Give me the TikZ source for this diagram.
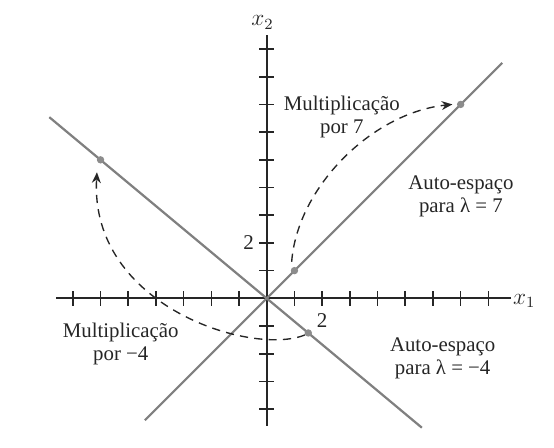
\documentclass[tikz,border=0pt]{standalone}
\usepackage{fontspec}
\setmainfont{Liberation Serif}
\newfontfamily\lblfont{Liberation Serif}
\usetikzlibrary{arrows.meta}
\begin{document}
\begin{tikzpicture}[x=0.5cm,y=0.5cm,
  axis/.style={line width=0.95pt,black!85},
  tickmark/.style={line width=0.85pt,black!85},
  eigenline/.style={line width=1.15pt,black!50},
  dotpt/.style={circle,fill=black!45,inner sep=0pt,minimum size=3.8pt},
  mapcurve/.style={line width=0.7pt,black!85,dash pattern=on 4.2pt off 3.2pt,-{Stealth[length=5.5pt,width=4.6pt]}},
  lbl/.style={font=\lblfont\fontsize{10.7}{11.8}\selectfont,text=black!85,align=center,inner sep=0pt},
  numlbl/.style={font=\lblfont\fontsize{10.8}{12}\selectfont,text=black!85,inner sep=0pt},
  axlbl/.style={font=\fontsize{12}{13}\selectfont,text=black!85,inner sep=0pt}]
\useasboundingbox (-9.63,-5.40) rectangle (10.37,10.77);
% axes
\coordinate (xl) at (-7.6,0);
\coordinate (xr) at (8.8,0);
\coordinate (yb) at (0,-4.6);
\coordinate (yt) at (0,9.5);
\draw[axis] (xl) -- (xr);
\draw[axis] (yb) -- (yt);
\foreach \i in {-7,...,-1,1,2,...,8} \draw[tickmark] (\i,-0.27) -- (\i,0.27);
\foreach \j in {-4,...,-1,1,2,...,9} \draw[tickmark] (-0.27,\j) -- (0.27,\j);
\node[axlbl] (x1) at (9.3,-0.1) {$x_1$};
\node[axlbl] (x2) at (-0.15,9.95) {$x_2$};
\node[numlbl] (n2x) at (2.0,-0.8) {2};
\node[numlbl] (n2y) at (-0.65,2.0) {2};
% eigenspaces
\coordinate (a1) at (-4.4,-4.4);
\coordinate (a2) at (8.5,8.5);
\coordinate (b1) at (-7.85,6.54);
\coordinate (b2) at (5.6,-4.67);
\draw[eigenline] (a1) -- (a2);
\draw[eigenline] (b1) -- (b2);
% points
\node[dotpt] (p1) at (1,1) {};
\node[dotpt] (p7) at (7,7) {};
\node[dotpt] (q1) at (1.5,-1.25) {};
\node[dotpt] (q4) at (-6,5) {};
% curves
\coordinate (s1) at (0.9,1.32);
\coordinate (e1) at (6.7,7.0);
\coordinate (s2) at (1.38,-1.32);
\coordinate (e2) at (-6.13,4.55);
\draw[mapcurve] (s1) .. controls (1.1,4.0) and (3.8,6.7) .. (e1);
\draw[mapcurve] (s2) .. controls (-0.5,-2.1) and (-6.4,-0.3) .. (e2);
% labels
\node[lbl] (m7) at (2.71,6.56) {Multiplicação\\por 7};
\node[lbl] (e7) at (7.01,3.67) {Auto-espaço\\para λ = 7};
\node[lbl] (m4) at (-5.27,-1.65) {Multiplicação\\por −4};
\node[lbl] (e4) at (6.35,-2.17) {Auto-espaço\\para λ = −4};
\end{tikzpicture}
\end{document}
